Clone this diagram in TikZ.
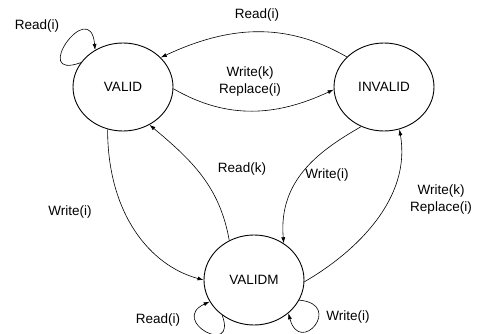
\documentclass[tikz,border=0pt]{standalone}
\usepackage{fontspec}
\setmainfont{Liberation Sans}
\usetikzlibrary{shapes.geometric,arrows.meta}

\begin{document}
\begin{tikzpicture}[x=1pt,y=1pt,
	every node/.append style={font=\fontsize{13.5}{17}\selectfont},
	state/.style={draw,ellipse,line width=0.9pt,minimum width=100pt,minimum height=88pt,inner sep=0pt},
	trans/.style={line width=0.6pt,-{Latex[length=6pt,width=4pt]}},
	lbl/.style={align=center,inner sep=1pt}]
	\useasboundingbox (0,0) rectangle (479,333);
	\node[state] (valid) at (123,246) {VALID};
	\node[state] (invalid) at (384,246) {INVALID};
	\node[state,minimum height=90pt] (validm) at (254,53) {VALIDM};
	\node[lbl] (rdloop) at (37,307) {Read(i)};
	\node[lbl] (rdtop) at (257,318) {Read(i)};
	\node[lbl] (wrrpmid) at (250,251) {Write(k)\\Replace(i)};
	\node[lbl] (rdk) at (242,164) {Read(k)};
	\node[lbl] (wrleft) at (70,121) {Write(i)};
	\node[lbl] (wrmid) at (327,158) {Write(i)};
	\node[lbl] (wrrpright) at (441,133) {Write(k)\\Replace(i)};
	\node[lbl] (rdbot) at (158,13) {Read(i)};
	\node[lbl] (wrbot) at (348,16) {Write(i)};
	% transitions
	\draw[trans] (valid.150) to[out=200,in=95,distance=55pt] (valid.127);
	\draw[trans] (invalid.141) to[out=150,in=25] (valid.38);
	\draw[trans] (valid.-2) to[out=-30,in=205] (invalid.183);
	\draw[trans] (validm.122) to[out=100,in=-40] (valid.-55);
	\draw[trans] (valid.-110) to[out=-90,in=165,out distance=85pt,in distance=55pt] (validm.180);
	\draw[trans] (invalid.-120) to[out=-150,in=95,out distance=45pt,in distance=65pt] (validm.51);
	\draw[trans] (validm.-2) to[out=30,in=-80,out distance=60pt,in distance=70pt] (invalid.-70);
	\draw[trans] (validm.-132) to[out=-70,in=205,distance=45pt] (validm.-154);
	\draw[trans] (validm.-24) to[out=-5,in=-75,distance=45pt] (validm.-44);
\end{tikzpicture}
\end{document}
